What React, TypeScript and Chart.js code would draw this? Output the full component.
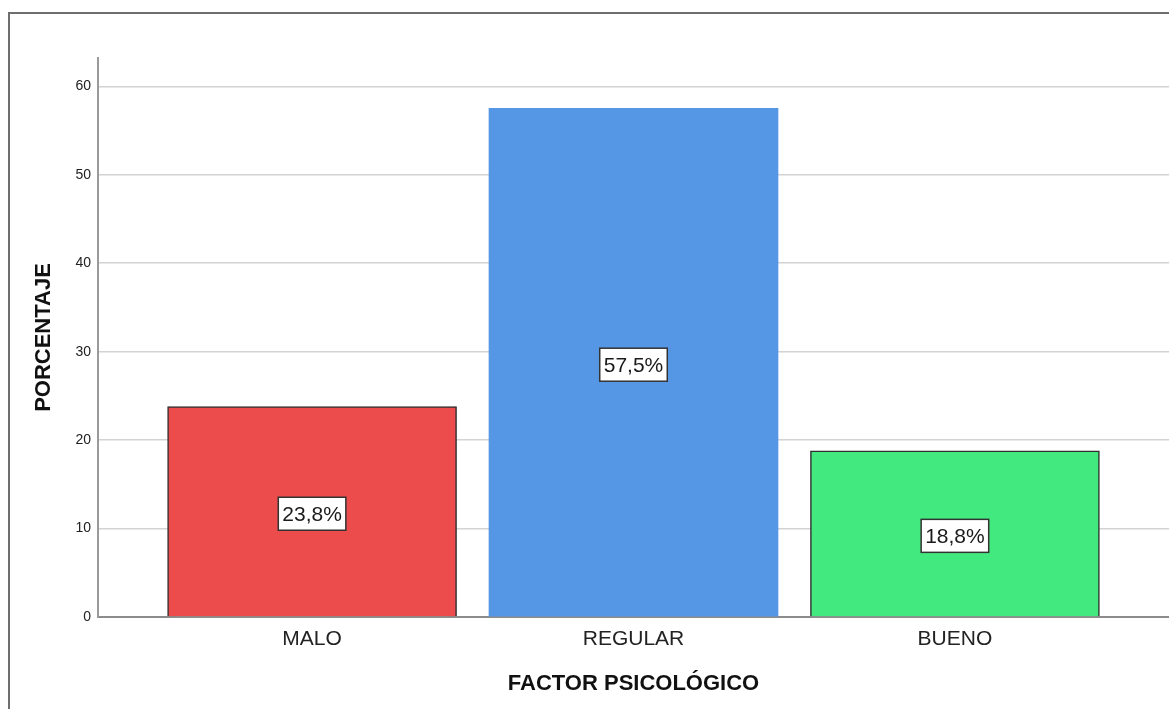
import React, { useEffect, useRef } from "react";
import { Chart, registerables } from "chart.js";

Chart.register(...registerables);

// Data
const categories = ["MALO", "REGULAR", "BUENO"];
const percentages = [23.8, 57.5, 18.8];
const barColors = ["#EC4C4C", "#5596E5", "#42E97E"];
const barBorderColors = ["#2f2f2f", "#5596E5", "#2f2f2f"];
const barBorderWidths = [1.5, 0, 1.5];
const yTickValues = [0, 10, 20, 30, 40, 50, 60];
const yAxisTitle = "PORCENTAJE";
const xAxisTitle = "FACTOR PSICOLÓGICO";

const FONT = "'Liberation Sans', Arial, Helvetica, sans-serif";

const fmtPct = (v: number) => v.toFixed(1).replace(".", ",") + "%";

// Outer frame around the chart
const framePlugin = {
  id: "frame",
  beforeDraw(chart: any) {
    const ctx = chart.ctx;
    ctx.save();
    ctx.strokeStyle = "#6e6e6e";
    ctx.lineWidth = 2;
    ctx.beginPath();
    ctx.moveTo(9, chart.height + 2);
    ctx.lineTo(9, 13);
    ctx.lineTo(chart.width + 2, 13);
    ctx.stroke();
    ctx.restore();
  },
};

// Boxed percentage labels at the middle of each bar
const valueBoxPlugin = {
  id: "valueBoxes",
  afterDatasetsDraw(chart: any) {
    const ctx = chart.ctx;
    const meta = chart.getDatasetMeta(0);
    const yScale = chart.scales.y;
    ctx.save();
    ctx.font = `21px ${FONT}`;
    ctx.textAlign = "center";
    ctx.textBaseline = "middle";
    meta.data.forEach((bar: any, i: number) => {
      const v = percentages[i];
      const text = fmtPct(v);
      const cx = bar.x;
      const cy = yScale.getPixelForValue(v / 2) + 2;
      const w = ctx.measureText(text).width + 8;
      const h = 33;
      ctx.fillStyle = "#ffffff";
      ctx.fillRect(cx - w / 2, cy - h / 2, w, h);
      ctx.strokeStyle = "#333333";
      ctx.lineWidth = 1.5;
      ctx.strokeRect(cx - w / 2, cy - h / 2, w, h);
      ctx.fillStyle = "#1a1a1a";
      ctx.fillText(text, cx, cy + 1);
    });
    ctx.restore();
  },
};

export default function App() {
  const canvasRef = useRef<HTMLCanvasElement | null>(null);

  useEffect(() => {
    if (!canvasRef.current) return;
    const chart = new Chart(canvasRef.current, {
      type: "bar",
      data: {
        datasets: [
          {
            data: percentages.map((p, i) => ({ x: i, y: p })),
            backgroundColor: barColors,
            borderColor: barBorderColors,
            borderWidth: barBorderWidths,
            barThickness: 289,
          },
        ],
      },
      options: {
        animation: false,
        responsive: true,
        maintainAspectRatio: false,
        layout: { padding: { top: 58, right: 0, bottom: 0, left: 0 } },
        plugins: {
          legend: { display: false },
          tooltip: { enabled: false },
        },
        scales: {
          x: {
            type: "linear",
            offset: false,
            min: -0.666,
            max: 2.666,
            afterFit(scale: any) {
              scale.height = 92;
            },
            afterBuildTicks(scale: any) {
              scale.ticks = categories.map((_, i) => ({ value: i }));
            },
            grid: { display: false, drawTicks: false, offset: false },
            border: { display: true, color: "#8c8c8c", width: 2 },
            ticks: {
              padding: 10,
              color: "#222222",
              font: { family: FONT, size: 21 },
              callback: (v: any) => categories[Number(v)] ?? "",
            },
            title: {
              display: true,
              text: xAxisTitle,
              color: "#111111",
              font: { family: FONT, size: 22, weight: "bold" },
              padding: { top: 0, bottom: 12 },
            },
          },
          y: {
            type: "linear",
            min: 0,
            max: 63.2,
            afterFit(scale: any) {
              scale.width = 98;
            },
            afterBuildTicks(scale: any) {
              scale.ticks = yTickValues.map((v) => ({ value: v }));
            },
            grid: { color: "#d3d3d3", lineWidth: 1.5, drawTicks: false },
            border: { display: true, color: "#9a9a9a", width: 2 },
            ticks: {
              padding: 7,
              color: "#222222",
              font: { family: FONT, size: 14 },
            },
            title: {
              display: true,
              text: yAxisTitle,
              color: "#111111",
              font: { family: FONT, size: 22, weight: "bold" },
              padding: { top: 31, bottom: 0 },
            },
          },
        },
      },
      plugins: [framePlugin, valueBoxPlugin],
    } as any);
    return () => chart.destroy();
  }, []);

  return (
    <div style={{ position: "absolute", left: 0, top: 0, width: 1169, height: 709, background: "#ffffff" }}>
      <canvas ref={canvasRef} />
    </div>
  );
}
